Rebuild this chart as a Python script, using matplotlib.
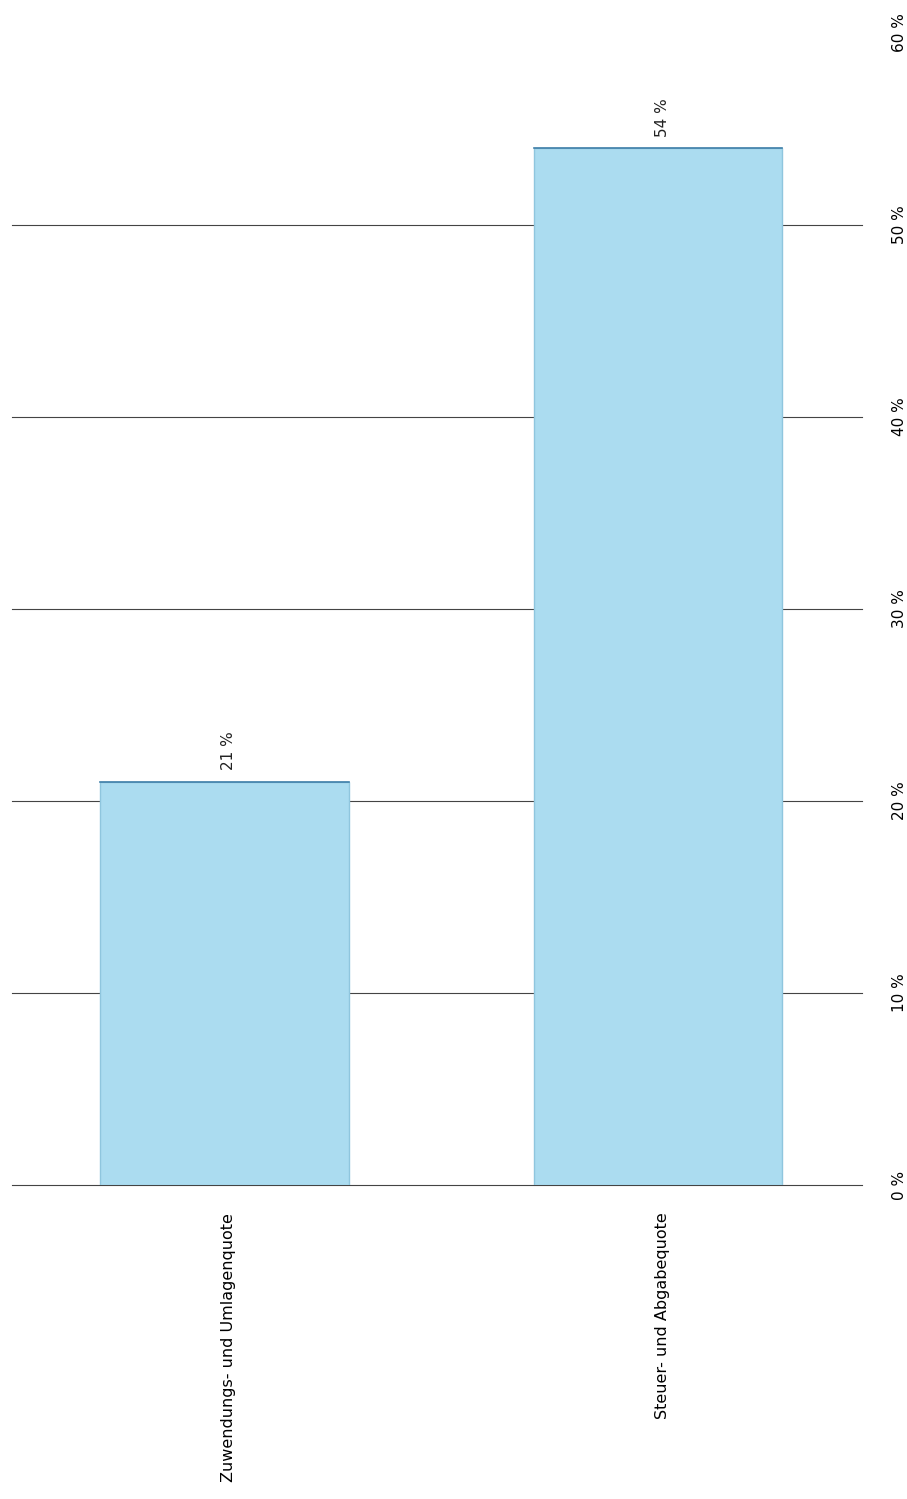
import matplotlib.pyplot as plt
import numpy as np

# data
categories = ["Zuwendungs- und Umlagenquote", "Steuer- und Abgabequote"]
values = [21, 54]
ticks = [0, 10, 20, 30, 40, 50, 60]
tick_labels = ["0 %", "10 %", "20 %", "30 %", "40 %", "50 %", "60 %"]

fig = plt.figure(figsize=(9.07, 14.99), dpi=100)
ax = fig.add_axes([0.0132, 0.2095, 0.937, 0.7685])

x = np.array([0.0, 1.02])
bars = ax.bar(x, values, width=0.585, color="#abdcf0", edgecolor="#8fc6de",
              linewidth=1.0, zorder=3)
# darker top edge of each bar
for b in bars:
    ax.plot([b.get_x(), b.get_x() + b.get_width()], [b.get_height()] * 2,
            color="#3f7fa8", lw=1.2, zorder=4)
    ax.text(b.get_x() + b.get_width() / 2 + 0.01, b.get_height() + 1.6,
            f"{b.get_height():.0f} %", rotation=90, ha="center", va="center",
            fontsize=11, color="#222222")

ax.set_xlim(-0.5, 1.5)
ax.set_ylim(0, 60)
ax.yaxis.tick_right()
ax.set_yticks(ticks)
ax.set_yticklabels(tick_labels, rotation=90, va="center", fontsize=11)
ax.tick_params(axis="y", length=0, pad=22)

# gridlines (no line at the top 60 %)
for t in ticks[:-1]:
    ax.axhline(t, color="#444444", lw=0.8, zorder=1, clip_on=False)

ax.set_xticks(x + 0.01)
ax.set_xticklabels(categories, rotation=90, ha="center", va="top", fontsize=11.5)
ax.tick_params(axis="x", length=0, pad=20)

for s in ax.spines.values():
    s.set_visible(False)

fig.savefig("out.png", dpi=100)
